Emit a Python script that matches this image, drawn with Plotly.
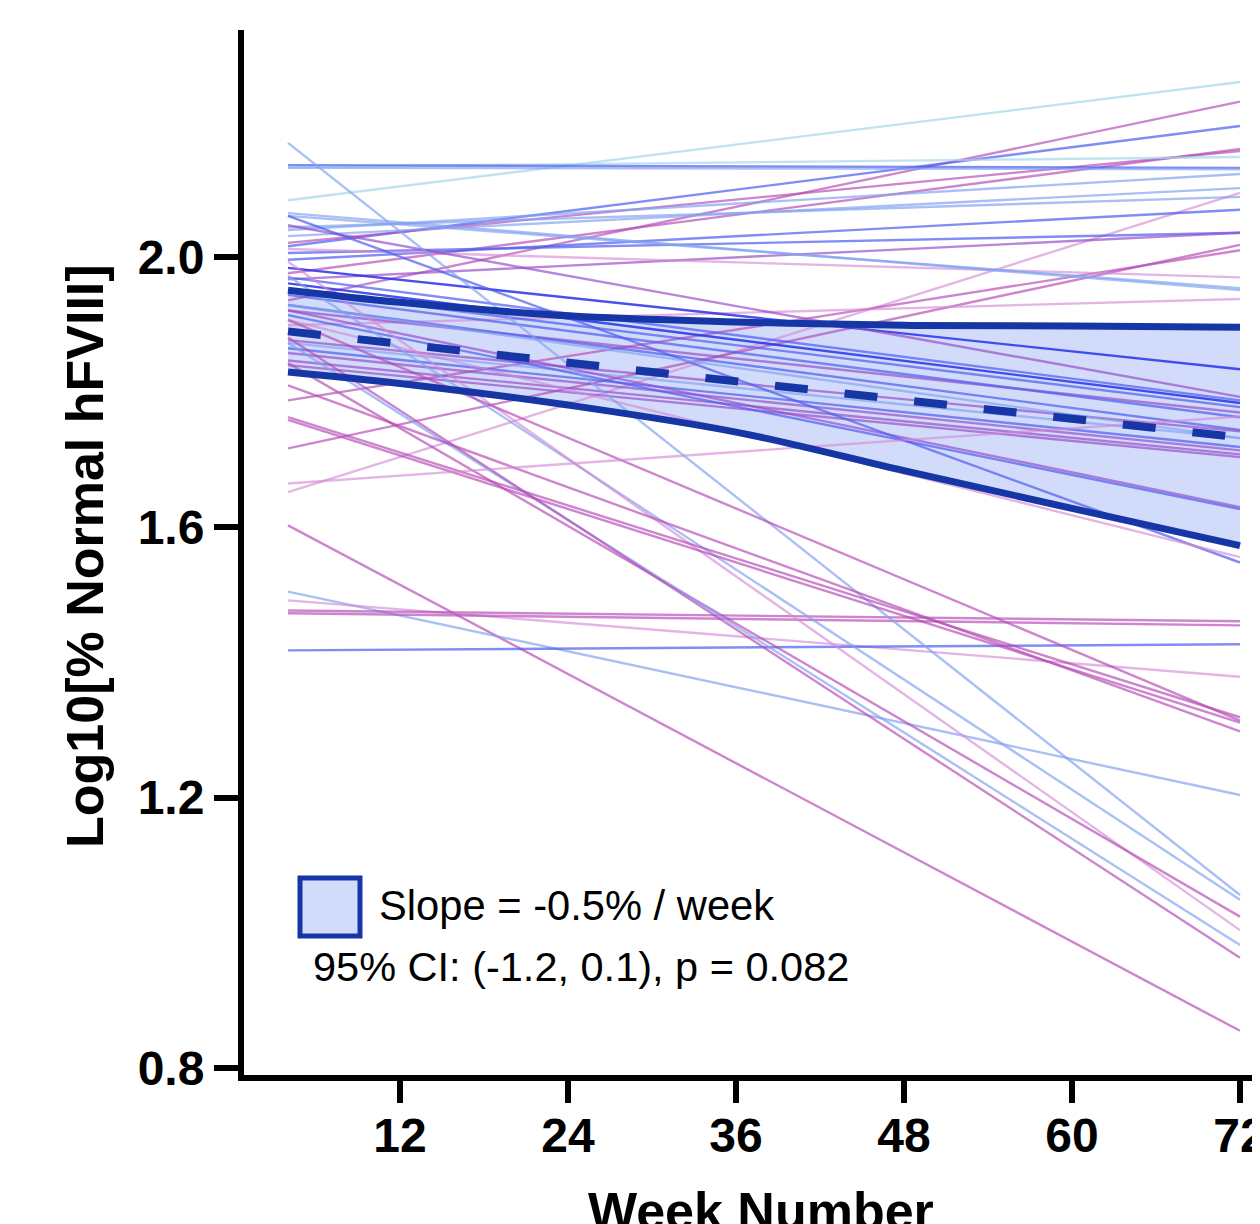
import plotly.graph_objects as go

# ---------------- data ----------------
weeks_fit = [4, 72]

start_vals = [2.084, 1.936, 2.016, 1.976, 2.021, 2.133, 2.136, 2.132, 2.040, 2.031,
              1.652, 2.044, 1.996, 2.006, 1.967, 1.717, 1.788, 2.012, 2.061, 2.065,
              1.899, 1.984, 2.047, 1.970, 1.961, 1.951, 1.921, 1.944, 1.929, 1.877,
              1.873, 1.865, 1.858, 1.847, 1.840, 1.921, 1.914, 2.061, 1.907, 1.603,
              1.505, 1.492, 1.477, 1.473, 1.418, 2.169, 1.972, 1.993, 1.843, 1.873,
              1.881, 1.907, 1.810, 1.763, 1.759, 1.665, 1.929]
end_vals = [2.259, 2.230, 2.194, 2.160, 2.157, 2.148, 2.132, 2.130, 2.123, 2.102,
            2.095, 2.089, 2.070, 2.036, 2.036, 2.018, 2.010, 1.970, 1.954, 1.951,
            1.938, 1.834, 1.793, 1.788, 1.784, 1.778, 1.770, 1.763, 1.744, 1.742,
            1.732, 1.719, 1.714, 1.708, 1.704, 1.630, 1.627, 1.548, 1.556, 0.855,
            1.204, 1.379, 1.461, 1.455, 1.427, 1.056, 1.049, 1.004, 1.024, 0.982,
            0.963, 1.314, 1.298, 1.319, 1.311, 1.764, 1.732]
groups = ["C", "M", "B", "M", "M", "C", "B", "LB", "LB", "LB",
          "PK", "LB", "B", "B", "P", "M", "M", "PK", "LB", "LB",
          "PK", "DB", "P", "B", "DB", "B", "P", "B", "B", "P",
          "LB", "B", "P", "P", "P", "P", "B", "B", "PK", "M",
          "LB", "PK", "M", "M", "B", "LB", "LB", "PK", "M", "LB",
          "M", "M", "M", "M", "M", "PK", "LB"]

ci_weeks = [4, 12, 24, 36, 48, 60, 72]
ci_upper = [1.951, 1.933, 1.913, 1.904, 1.899, 1.898, 1.896]
ci_lower = [1.830, 1.813, 1.781, 1.741, 1.684, 1.628, 1.573]
mean_vals = [1.890, 1.733]

x_ticks = [12, 24, 36, 48, 60, 72]
y_ticks = [0.8, 1.2, 1.6, 2.0]
y_tick_labels = ["0.8", "1.2", "1.6", "2.0"]

legend_line1 = "Slope = -0.5% / week"
legend_line2 = "95% CI: (-1.2, 0.1), p = 0.082"

# ---------------- styles ----------------
group_colors = {
    "C": "rgba(165,215,232,0.7)",
    "LB": "rgba(130,162,240,0.68)",
    "B": "rgba(80,95,240,0.72)",
    "DB": "rgba(40,50,235,0.85)",
    "P": "rgba(150,75,200,0.68)",
    "M": "rgba(182,75,182,0.68)",
    "PK": "rgba(212,135,212,0.62)",
}
dark = "#1736a6"
FONT = "Liberation Sans, Arial, sans-serif"

# page has an 8px body margin; plot area placed in screen pixels
OFF = 8
L, R, T, B = 244, 1260, 30, 1075
W = R - L
H = B - T
FIG_W, FIG_H = 1260 - OFF, 1224 - OFF

fig = go.Figure()

# CI band fill
fig.add_trace(go.Scatter(x=ci_weeks, y=ci_lower, mode="lines", line=dict(width=0, shape="spline"),
                         showlegend=False, hoverinfo="skip"))
fig.add_trace(go.Scatter(x=ci_weeks, y=ci_upper, mode="lines", line=dict(width=0, shape="spline"),
                         fill="tonexty", fillcolor="rgba(165,185,245,0.5)",
                         showlegend=False, hoverinfo="skip"))

# individual subject fits
for s, e, g in zip(start_vals, end_vals, groups):
    fig.add_trace(go.Scatter(x=weeks_fit, y=[s, e], mode="lines",
                             line=dict(color=group_colors[g], width=2.4),
                             showlegend=False, hoverinfo="skip"))

# CI boundaries
fig.add_trace(go.Scatter(x=ci_weeks, y=ci_upper, mode="lines",
                         line=dict(color=dark, width=7, shape="spline"), showlegend=False))
fig.add_trace(go.Scatter(x=ci_weeks, y=ci_lower, mode="lines",
                         line=dict(color=dark, width=7, shape="spline"), showlegend=False))
# mean fit
fig.add_trace(go.Scatter(x=weeks_fit, y=mean_vals, mode="lines",
                         line=dict(color=dark, width=8, dash="33px,37px"), showlegend=False))


def px(xp):
    return (xp - L) / W


def py(yp):
    return (B - yp) / H


fig.add_shape(type="rect", xref="paper", yref="paper",
              x0=px(300), x1=px(360), y0=py(936), y1=py(878),
              line=dict(color=dark, width=5), fillcolor="#d0dcfa")
fig.add_annotation(xref="paper", yref="paper", x=px(377), y=py(905), text=legend_line1,
                   showarrow=False, xanchor="left", yanchor="middle",
                   font=dict(family=FONT, size=41.7, color="black"))
fig.add_annotation(xref="paper", yref="paper", x=px(311), y=py(966), text=legend_line2,
                   showarrow=False, xanchor="left", yanchor="middle",
                   font=dict(family=FONT, size=41.5, color="black"))

# axis titles
fig.add_annotation(xref="paper", yref="paper", x=px(85), y=py(556),
                   text="<b>Log10[% Normal hFVIII]</b>", textangle=-90, showarrow=False,
                   xanchor="center", yanchor="middle",
                   font=dict(family=FONT, size=52, color="black"))
fig.add_annotation(xref="paper", yref="paper", x=px(761), y=py(1180),
                   text="<b>Week Number</b>", showarrow=False,
                   xanchor="center", yanchor="top",
                   font=dict(family=FONT, size=52, color="black"))

fig.update_layout(
    width=FIG_W, height=FIG_H,
    margin=dict(l=L - OFF, r=0, t=T - OFF, b=FIG_H - (B - OFF)),
    paper_bgcolor="white", plot_bgcolor="white",
    showlegend=False,
    xaxis=dict(range=[0.857, 73.43], tickvals=x_ticks, ticks="outside", ticklen=22, tickwidth=6,
               tickcolor="black", showline=True, linewidth=6, linecolor="black",
               showgrid=False, zeroline=False, ticklabelstandoff=-9,
               ticklabeloverflow="allow", automargin=False,
               tickfont=dict(family=FONT, size=48, color="black", weight="bold")),
    yaxis=dict(range=[0.7896, 2.336], tickvals=y_ticks, ticktext=y_tick_labels, ticks="outside",
               ticklen=24, tickwidth=6, tickcolor="black", showline=True, linewidth=6,
               linecolor="black", showgrid=False, zeroline=False, ticklabelstandoff=0,
               automargin=False,
               tickfont=dict(family=FONT, size=48, color="black", weight="bold")),
)

fig.write_html("out.html")
